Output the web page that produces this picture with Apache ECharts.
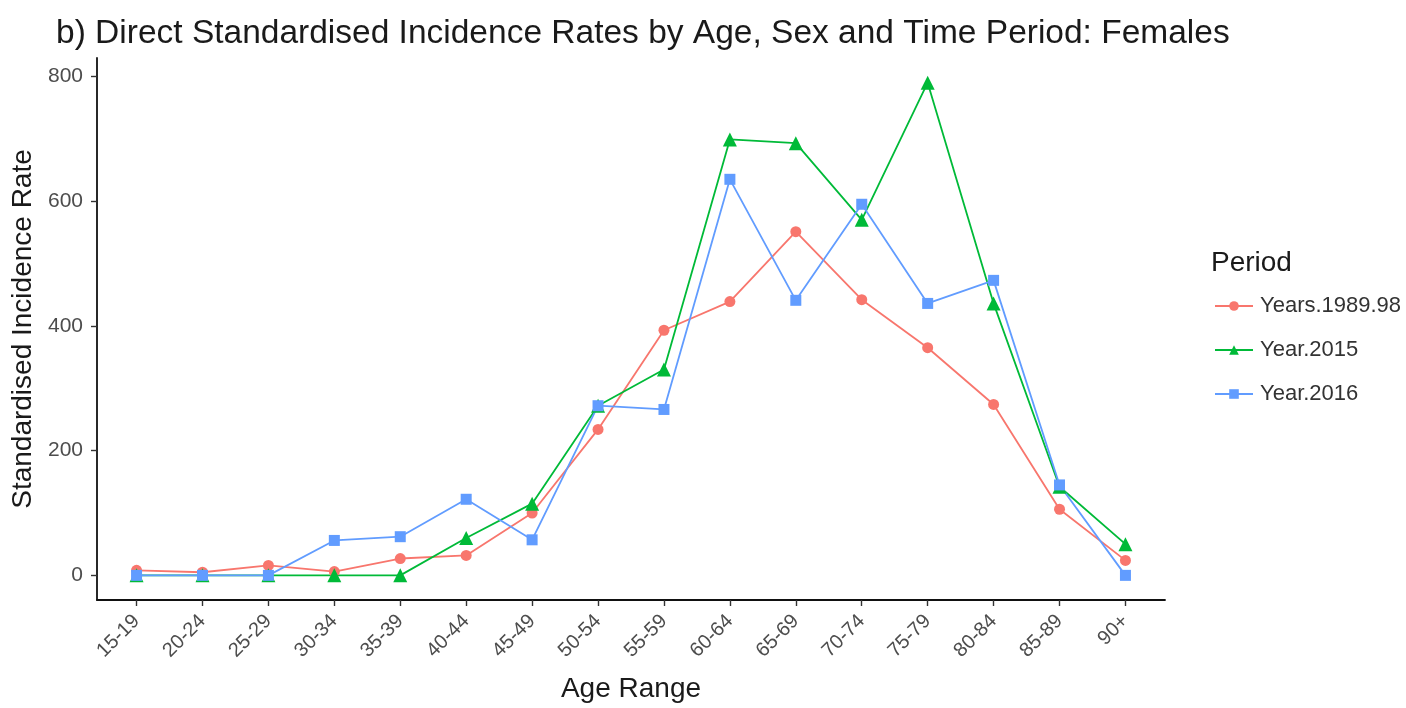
<!DOCTYPE html>
<html>
<head>
<meta charset="utf-8">
<script src="https://cdn.jsdelivr.net/npm/echarts@6/dist/echarts.min.js"></script>
<style>
html,body{margin:0;padding:0;background:#fff;}
#chart{width:1406px;height:708px;}
</style>
</head>
<body>
<div id="chart"></div>
<script>
const ageRanges = ['15-19','20-24','25-29','30-34','35-39','40-44','45-49','50-54','55-59','60-64','65-69','70-74','75-79','80-84','85-89','90+'];
const years1989_98 = [8, 5, 16, 6, 27, 32, 100, 234, 393, 439, 551, 442, 365, 274, 106, 24];
const year2015 = [0, 0, 0, 0, 0, 60, 115, 272, 330, 699, 693, 570, 790, 436, 142, 50];
const year2016 = [0, 0, 0, 56, 62, 122, 57, 272, 266, 635, 441, 595, 436, 473, 145, 0];
const yTicks = [0, 200, 400, 600, 800];
const seriesNames = ['Years.1989.98', 'Year.2015', 'Year.2016'];

const toPairs = arr => arr.map((v, i) => [i, v]);
const idx = ageRanges.map((_, i) => i);
const font = 'Liberation Sans, Arial, sans-serif';

const chart = echarts.init(document.getElementById('chart'), null, {renderer: 'canvas'});
chart.setOption({
  animation: false,
  backgroundColor: '#fff',
  textStyle: {fontFamily: font},
  title: [
    {text: 'b) Direct Standardised Incidence Rates by Age, Sex and Time Period: Females',
     left: 51, top: 12, textStyle: {fontSize: 33.5, fontWeight: 'normal', color: '#1a1a1a', fontFamily: font}},
    {text: 'Period', left: 1206, top: 244, textStyle: {fontSize: 28, fontWeight: 'normal', color: '#1a1a1a', fontFamily: font}}
  ],
  legend: {
    orient: 'vertical', left: 1209, top: 290, itemGap: 22, itemWidth: 38, itemHeight: 12,
    data: seriesNames,
    textStyle: {fontSize: 22, color: '#333', fontFamily: font, padding: [0, 0, 0, 2]}
  },
  grid: {left: 97, right: 241, top: 58, bottom: 107},
  xAxis: {
    type: 'value', min: -0.6, max: 15.6,
    name: 'Age Range', nameLocation: 'middle', nameGap: 75,
    nameTextStyle: {fontSize: 28, color: '#1a1a1a', fontFamily: font},
    axisLine: {onZero: false, lineStyle: {color: '#111', width: 1.8}},
    axisTick: {customValues: idx, length: 6, lineStyle: {color: '#333', width: 1.4}},
    axisLabel: {customValues: idx, formatter: v => ageRanges[Math.round(v)], rotate: 45, fontSize: 20, color: '#4d4d4d', margin: 18},
    splitLine: {show: false}
  },
  yAxis: {
    type: 'value', min: -39.5, max: 829.5,
    name: 'Standardised Incidence Rate', nameLocation: 'middle', nameGap: 58,
    nameTextStyle: {fontSize: 28, color: '#1a1a1a', fontFamily: font},
    axisLine: {show: true, onZero: false, lineStyle: {color: '#111', width: 1.8}},
    axisTick: {show: true, customValues: yTicks, length: 6, lineStyle: {color: '#333', width: 1.4}},
    axisLabel: {customValues: yTicks, fontSize: 21, color: '#4d4d4d', margin: 14},
    splitLine: {show: false}
  },
  series: [
    {name: seriesNames[0], type: 'line', data: toPairs(years1989_98), symbol: 'circle', symbolSize: 11,
     itemStyle: {color: '#F8766D'}, lineStyle: {width: 1.8, color: '#F8766D'}},
    {name: seriesNames[1], type: 'line', data: toPairs(year2015), symbol: 'triangle', symbolSize: 14,
     itemStyle: {color: '#00BA38'}, lineStyle: {width: 1.8, color: '#00BA38'}},
    {name: seriesNames[2], type: 'line', data: toPairs(year2016), symbol: 'rect', symbolSize: 11,
     itemStyle: {color: '#619CFF'}, lineStyle: {width: 1.8, color: '#619CFF'}}
  ]
});
</script>
</body>
</html>
